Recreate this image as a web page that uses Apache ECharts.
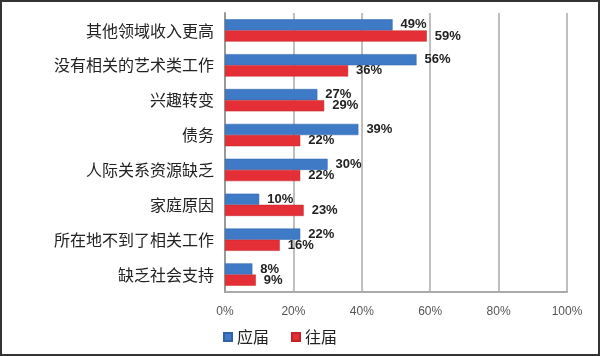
<!DOCTYPE html>
<html><head><meta charset="utf-8">
<script src="https://cdn.jsdelivr.net/npm/echarts@6/dist/echarts.min.js"></script>
<style>html,body{margin:0;padding:0;background:#fff}#c{width:600px;height:356px;box-sizing:border-box;border:2px solid #333}</style>
</head><body><div id="c"></div>
<script>
const categories = ['其他领域收入更高','没有相关的艺术类工作','兴趣转变','债务','人际关系资源缺乏','家庭原因','所在地不到了相关工作','缺乏社会支持'];
const freshValues = [49,56,27,39,30,10,22,8];
const pastValues = [59,36,29,22,22,23,16,9];
const tickLabels = ['0%','20%','40%','60%','80%','100%'];
const chart = echarts.init(document.getElementById('c'), null, {renderer:'canvas'});
const lbl = {show:true, position:'right', distance:8, formatter:'{c}%', color:'#222', fontWeight:'bold', fontSize:13, fontFamily:'Arial, "Noto Sans CJK SC"'};
chart.setOption({
  animation:false,
  grid:{left:223, right:31, top:11, bottom:62, containLabel:false},
  legend:{bottom:4, left:216, itemWidth:8, itemHeight:8, itemGap:22, icon:'rect',
    textStyle:{fontSize:16, color:'#222', fontFamily:'"Noto Sans CJK SC"'}, data:['应届','往届']},
  xAxis:{type:'value', min:0, max:100, interval:20,
    axisLabel:{formatter:(v)=>tickLabels[v/20], color:'#555', fontSize:12, margin:14, fontFamily:'Arial'},
    splitLine:{show:true, lineStyle:{color:'#aaa', width:1.5}},
    axisLine:{show:true, lineStyle:{color:'#aaa', width:2}}, axisTick:{show:false}},
  yAxis:{type:'category', data:categories, inverse:true,
    axisLabel:{color:'#222', fontSize:16, margin:11, fontFamily:'"Noto Sans CJK SC"'},
    axisLine:{show:true, lineStyle:{color:'#999', width:2}}, axisTick:{show:false}},
  series:[
    {name:'应届', type:'bar', data:freshValues, barGap:'0%', barCategoryGap:'36%',
      itemStyle:{color:'#3f7ac7', borderColor:'#2f62a8', borderWidth:0.5}, label:lbl},
    {name:'往届', type:'bar', data:pastValues, barGap:'0%', barCategoryGap:'36%',
      itemStyle:{color:'#e52f36', borderColor:'#c2242a', borderWidth:0.5}, label:lbl}
  ]
});
</script></body></html>
